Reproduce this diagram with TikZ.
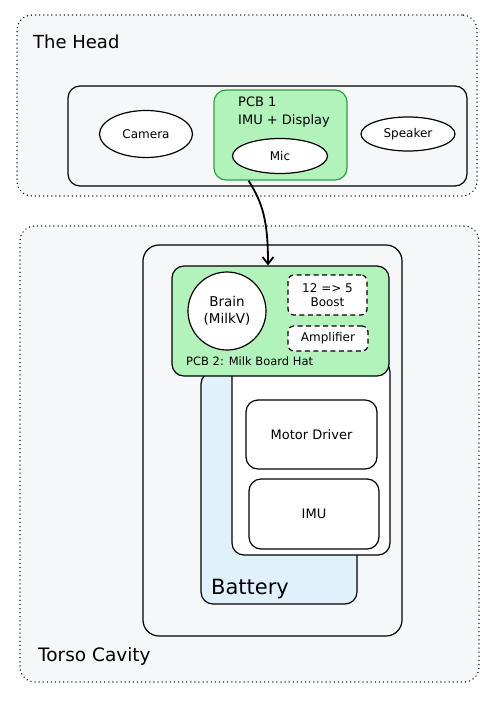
\documentclass[tikz,border=0pt]{standalone}
\usepackage{fontspec}
\setmainfont{DejaVu Sans}
\usetikzlibrary{arrows.meta,shapes.geometric}
\definecolor{bgray}{HTML}{F6F7F9}
\definecolor{pcbgreen}{HTML}{B2F2BB}
\definecolor{pcbline}{HTML}{2F9E44}
\definecolor{battblue}{HTML}{E0F1FC}
\begin{document}
\begin{tikzpicture}[x=1pt,y=-1pt,>={Straight Barb[length=7pt,width=11pt]},
        area/.style={draw, line width=1.4pt, dash pattern=on 0.1pt off 4pt, line cap=round, rounded corners=15pt, fill=bgray},
        box/.style={draw, line width=1.2pt, rounded corners=12pt, fill=white},
        pcb/.style={box, fill=pcbgreen},
        part/.style={draw, line width=1.2pt, ellipse, fill=white, inner sep=0pt, font=\fontsize{12}{14}\selectfont},
        opt/.style={box, dash pattern=on 5pt off 3.5pt, rounded corners=6pt, font=\fontsize{12}{14}\selectfont, align=center, inner sep=0pt},
        lbl/.style={font=\fontsize{13}{15}\selectfont, inner sep=0pt}]
        \useasboundingbox (0,0) rectangle (501,712);
        %
        % the head
        \node[area, minimum width=460pt, minimum height=181pt] (head) at (247,105.5) {};
        \node[anchor=west, font=\fontsize{18}{20}\selectfont, inner sep=0pt] (headlbl) at (33,42) {The Head};
        \node[box, fill=bgray, minimum width=399pt, minimum height=100pt] (headin) at (267.5,136) {};
        \node[pcb, draw=pcbline, minimum width=133pt, minimum height=90pt] (pcb1) at (280.5,135) {};
        \node[lbl, anchor=north west, align=left, font=\fontsize{13}{18.5}\selectfont] (pcb1lbl) at (238,96.5) {PCB 1\\IMU + Display};
        \node[part, minimum width=93pt, minimum height=47pt] (camera) at (146,134) {Camera};
        \node[part, minimum width=95pt, minimum height=35pt] (mic) at (280,156) {Mic};
        \node[part, minimum width=94pt, minimum height=34pt] (speaker) at (408,134) {Speaker};
        %
        % the torso
        \node[area, minimum width=459pt, minimum height=456pt] (torso) at (249.5,454) {};
        \node[anchor=west, font=\fontsize{18.5}{20}\selectfont, inner sep=0pt] (torsolbl) at (38,656) {Torso Cavity};
        \node[box, fill=bgray, rounded corners=16pt, minimum width=259pt, minimum height=391pt] (body) at (272.5,440.5) {};
        \node[box, fill=battblue, minimum width=156pt, minimum height=232pt] (battery) at (279,488) {};
        \node[anchor=west, font=\fontsize{21}{23}\selectfont, inner sep=0pt] (battlbl) at (211,589) {Battery};
        \node[box, minimum width=158pt, minimum height=195pt] (stack) at (311,457.5) {};
        \node[box, minimum width=131pt, minimum height=69pt, font=\fontsize{13}{15}\selectfont] (motor) at (311.5,434.5) {Motor Driver};
        \node[box, minimum width=130pt, minimum height=70pt, font=\fontsize{13}{15}\selectfont] (imu) at (314,514) {IMU};
        \node[pcb, minimum width=217pt, minimum height=110pt] (pcb2) at (280.5,321) {};
        \node[lbl, anchor=west, font=\fontsize{11.5}{13}\selectfont] (pcb2lbl) at (186,361) {PCB 2: Milk Board Hat};
        \node[part, circle, minimum size=78pt, align=center, font=\fontsize{13.5}{17}\selectfont] (brain) at (227,311) {Brain\\(MilkV)};
        \node[opt, minimum width=79pt, minimum height=40pt] (boost) at (327.5,295) {12 => 5\\Boost};
        \node[opt, minimum width=80pt, minimum height=25pt] (amp) at (328,338.5) {Amplifier};
        %
        % link head -> torso
        \draw[->, line width=1.8pt] ([xshift=-32pt]pcb1.south) .. controls +(14,22) and +(0,-45) .. ([xshift=-12.5pt]pcb2.north);
\end{tikzpicture}
\end{document}
